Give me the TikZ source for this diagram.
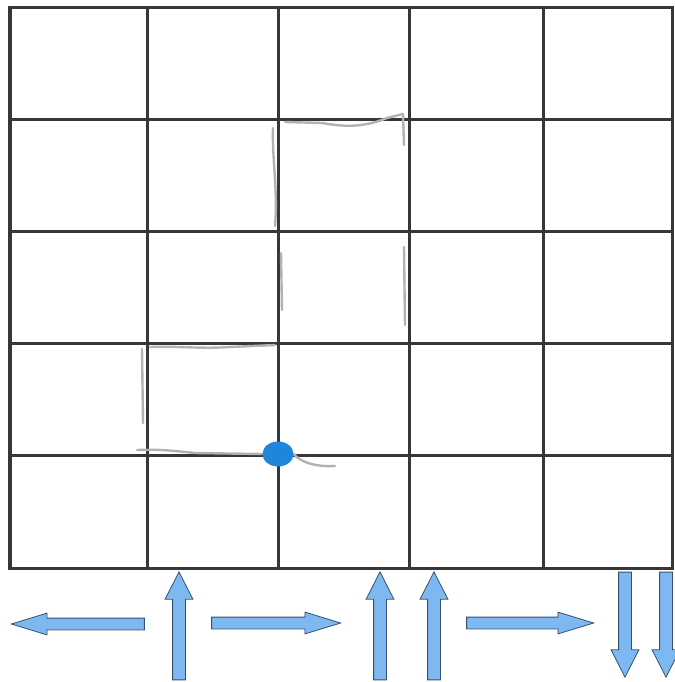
\documentclass[tikz,border=0pt]{standalone}
\usetikzlibrary{shapes.arrows,shapes.geometric}
\definecolor{arrowblue}{RGB}{125,185,240}
\definecolor{arrowedge}{RGB}{55,80,110}
\definecolor{dotblue}{RGB}{30,135,220}
\definecolor{gridgray}{RGB}{55,55,55}
\begin{document}
\begin{tikzpicture}[x=0.5pt,y=-0.5pt]
		\tikzstyle{gridline} =[ draw=gridgray, line width=1.5pt, line cap=rect];
		\tikzstyle{pencil} =[ draw=gray!60, line width=1.2pt, line cap=round];
		\tikzstyle{harrow} =[ single arrow, anchor=tip, draw=arrowedge, fill=arrowblue, line width=0.4pt, inner sep=0pt, text height=5.5pt, text depth=0pt, minimum width=0pt, single arrow head extend=2.5pt, single arrow tip angle=34];
		\tikzstyle{varrow} =[ single arrow, anchor=tip, draw=arrowedge, fill=arrowblue, line width=0.4pt, inner sep=0pt, text height=6pt, text depth=0pt, minimum width=0pt, single arrow head extend=3.75pt, single arrow tip angle=54, minimum height=54pt];
		\useasboundingbox (0,0) rectangle (675,682);

		% grid
		\foreach \gx in {10,147,278,409,543,672}
			\draw[gridline] (\gx,7) -- (\gx,568);
		\foreach \gy in {7,119,231,343,455,568}
			\draw[gridline] (10,\gy) -- (672,\gy);

		% pencil marks
		\draw[pencil] (285,122) -- (322,123) .. controls (340,126) and (360,129) .. (387,118) -- (403,114);
		\draw[pencil] (273,128) .. controls (272,160) and (278,190) .. (275,226);
		\draw[pencil] (281,253) -- (282,310);
		\draw[pencil] (403,114) -- (404,145);
		\draw[pencil] (404,247) -- (405,325);
		\draw[pencil] (150,347) .. controls (180,346) and (200,349) .. (230,347) -- (275,345);
		\draw[pencil] (142,349) -- (143,423);
		\draw[pencil] (137,450) .. controls (160,449) and (175,451) .. (195,453) -- (262,454);

		% position
		\node[ellipse, fill=dotblue, minimum width=15.5pt, minimum height=12.5pt, inner sep=0pt] (dot) at (278,454) {};
		\draw[pencil] (dot.east) .. controls (300,462) and (315,467) .. (335,466);

		% moves
		\node[harrow, minimum height=66.5pt, rotate=180] (left) at (10,624) {};
		\node[varrow, rotate=90] (upa) at (179,571) {};
		\node[harrow, minimum height=64.5pt] (righta) at (342,623) {};
		\node[varrow, rotate=90] (upb) at (380,571) {};
		\node[varrow, rotate=90] (upc) at (434,571) {};
		\node[harrow, minimum height=63.5pt] (rightb) at (595,623) {};
		\node[varrow, rotate=-90, minimum height=52.5pt] (downa) at (625,678) {};
		\node[varrow, rotate=-90, minimum height=52.5pt] (downb) at (666,678) {};
	\end{tikzpicture}
\end{document}
